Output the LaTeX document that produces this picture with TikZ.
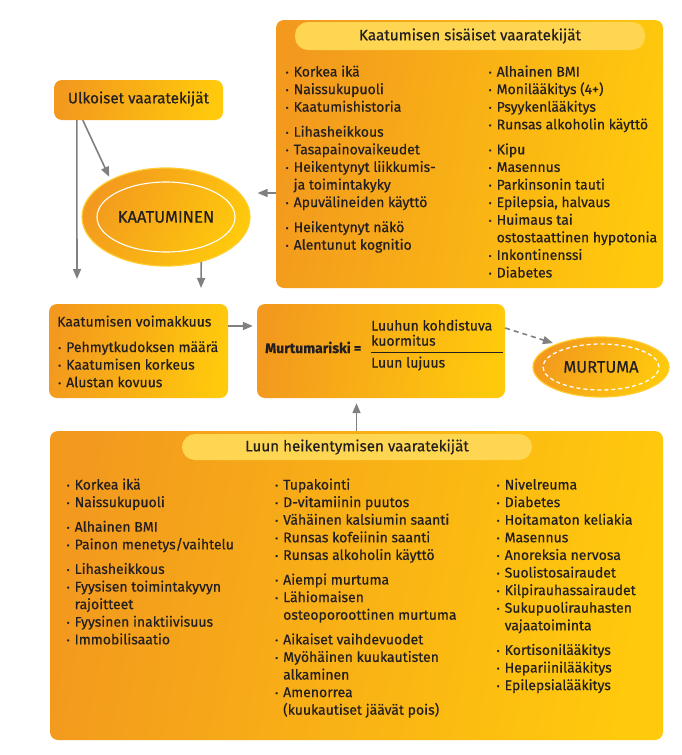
\documentclass[tikz,border=0pt]{standalone}
\usepackage{fontspec}
\setmainfont{Fira Sans}[RawFeature={embolden=0.5}]
\usetikzlibrary{arrows.meta,shapes.geometric}
\definecolor{orA}{HTML}{F39A1E}
\definecolor{yeB}{HTML}{FFC90C}
\definecolor{pillc}{HTML}{FFD651}
\definecolor{txt}{HTML}{231F20}
\definecolor{arr}{HTML}{808080}
\definecolor{rim}{HTML}{FFCB2E}
\newcommand\bu{\makebox[8pt][l]{\fontsize{9}{9}\selectfont\raisebox{0.8pt}{\textbullet}}}
\newcommand\bodyf{\fontsize{14}{17.6}\selectfont}
\begin{document}
\begin{tikzpicture}[x=1pt,y=-1pt,
  every node/.style={text=txt},
  gbox/.style={rounded corners=8pt, left color=orA, right color=yeB, shading angle=80, inner sep=0pt},
  pillbox/.style={rounded corners=13pt, fill=pillc, inner sep=0pt},
  lst/.style={anchor=base west, inner sep=0pt, font=\bodyf},
  ttl/.style={font=\fontsize{15.2}{17}\selectfont, inner sep=0pt},
  arw/.style={draw=arr, line width=1.6pt, -{Triangle[length=10pt,width=8pt]}},
]
\useasboundingbox (0,0) rectangle (681,755);

% ---------- boxes ----------
\node[gbox, minimum width=387pt, minimum height=268pt] (top) at (469.5,154) {};
\node[pillbox, minimum width=350pt, minimum height=28pt] (toppill) at (470,36) {};
\node[ttl] (toptitle) at (470,36) {Kaatumisen sisäiset vaaratekijät};

\node[gbox, minimum width=169pt, minimum height=40pt] (ulk) at (138.5,100) {};
\node[ttl] (ulkt) at (138.5,99) {Ulkoiset vaaratekijät};

\node[ellipse, left color=orA, right color=yeB, shading angle=60, draw=rim, line width=1.2pt,
      minimum width=168pt, minimum height=98pt, inner sep=0pt] (kaat) at (166,217) {};
\node[ellipse, draw=white, line width=1.1pt, minimum width=138pt, minimum height=70pt,
      inner sep=0pt, font=\fontsize{16.5}{18}\selectfont] (kaatin) at (166,217) {KAATUMINEN};

\node[gbox, minimum width=179pt, minimum height=94pt] (voim) at (138.5,351) {};
\node[gbox, minimum width=248pt, minimum height=94pt] (mr) at (381,351) {};

\node[ellipse, left color=orA, right color=yeB, shading angle=60, draw=rim, line width=1.2pt,
      minimum width=136pt, minimum height=60pt, inner sep=0pt] (mu) at (601,367) {};
\node[ellipse, draw=white, line width=1.3pt, dash pattern=on 4pt off 3pt,
      minimum width=116pt, minimum height=46pt, inner sep=0pt,
      font=\fontsize{16.5}{18}\selectfont] (muin) at (601,367) {MURTUMA};

\node[gbox, minimum width=613pt, minimum height=309pt] (bot) at (356.5,585.5) {};
\node[pillbox, minimum width=350pt, minimum height=26pt] (botpill) at (357,447) {};
\node[ttl] (bottitle) at (357,447) {Luun heikentymisen vaaratekijät};

% ---------- top box lists ----------
\node[lst] (tl) at (285.5,76.5) {\begin{tabular}[t]{@{}l@{}l@{}}
\bu&Korkea ikä\\
\bu&Naissukupuoli\\
\bu&Kaatumishistoria\\[7.4pt]
\bu&Lihasheikkous\\
\bu&Tasapainovaikeudet\\
\bu&Heikentynyt liikkumis-\\
&ja toimintakyky\\
\bu&Apuvälineiden käyttö\\[7.4pt]
\bu&Heikentynyt näkö\\
\bu&Alentunut kognitio
\end{tabular}};
\node[lst] (tr) at (488.5,76.5) {\begin{tabular}[t]{@{}l@{}l@{}}
\bu&Alhainen BMI\\
\bu&Monilääkitys (4+)\\
\bu&Psyykenlääkitys\\
\bu&Runsas alkoholin käyttö\\[7.4pt]
\bu&Kipu\\
\bu&Masennus\\
\bu&Parkinsonin tauti\\
\bu&Epilepsia, halvaus\\
\bu&Huimaus tai\\
&ostostaattinen hypotonia\\
\bu&Inkontinenssi\\
\bu&Diabetes
\end{tabular}};

% ---------- middle ----------
\node[lst] (voimt) at (57,326.5) {Kaatumisen voimakkuus};
\node[lst] (voiml) at (58,352) {\begin{tabular}[t]{@{}l@{}l@{}}
\bu&Pehmytkudoksen määrä\\
\bu&Kaatumisen korkeus\\
\bu&Alustan kovuus
\end{tabular}};
\node[lst, font=\bodyf\bfseries] (mrt) at (265,353) {Murtumariski =};
\node[lst, font=\fontsize{14}{14.2}\selectfont] (num) at (371,330.5) {\begin{tabular}[t]{@{}l@{}}
Luuhun kohdistuva\\kuormitus\end{tabular}};
\node[lst] (den) at (371,367.5) {Luun lujuus};
\coordinate (fracL) at (371,352);
\coordinate (fracR) at (503,352);
\draw[txt, line width=0.9pt] (fracL) -- (fracR);

% ---------- bottom lists ----------
\node[lst] (b1) at (66.5,489.5) {\begin{tabular}[t]{@{}l@{}l@{}}
\bu&Korkea ikä\\
\bu&Naissukupuoli\\[7pt]
\bu&Alhainen BMI\\
\bu&Painon menetys/vaihtelu\\[7pt]
\bu&Lihasheikkous\\
\bu&Fyysisen toimintakyvyn\\
&rajoitteet\\
\bu&Fyysinen inaktiivisuus\\
\bu&Immobilisaatio
\end{tabular}};
\node[lst] (b2) at (275,489.5) {\begin{tabular}[t]{@{}l@{}l@{}}
\bu&Tupakointi\\
\bu&D-vitamiinin puutos\\
\bu&Vähäinen kalsiumin saanti\\
\bu&Runsas kofeiinin saanti\\
\bu&Runsas alkoholin käyttö\\[7pt]
\bu&Aiempi murtuma\\
\bu&Lähiomaisen\\
&osteoporoottinen murtuma\\[7pt]
\bu&Aikaiset vaihdevuodet\\
\bu&Myöhäinen kuukautisten\\
&alkaminen\\
\bu&Amenorrea\\
&(kuukautiset jäävät pois)
\end{tabular}};
\node[lst] (b3) at (496.5,489.5) {\begin{tabular}[t]{@{}l@{}l@{}}
\bu&Nivelreuma\\
\bu&Diabetes\\
\bu&Hoitamaton keliakia\\
\bu&Masennus\\
\bu&Anoreksia nervosa\\
\bu&Suolistosairaudet\\
\bu&Kilpirauhassairaudet\\
\bu&Sukupuolirauhasten\\
&vajaatoiminta\\[7pt]
\bu&Kortisonilääkitys\\
\bu&Hepariinilääkitys\\
\bu&Epilepsialääkitys
\end{tabular}};

% ---------- connectors ----------
\coordinate (c1) at (77,279);
\coordinate (c2) at (201,288);
\draw[arw] ([xshift=23pt]ulk.south west) -- (c1);
\draw[arw, shorten >=3pt] ([xshift=29pt]ulk.south west) -- (kaat.146);
\draw[arw, shorten >=7pt] ([yshift=-39pt]top.west) -- ([yshift=-39pt]top.west -| kaat.east);
\draw[arw] (kaat.-52) -- (c2);
\draw[arw, shorten >=4pt] ([yshift=25pt]voim.east) -- ([yshift=25pt]voim.east -| mr.west);
\draw[arw, dash pattern=on 5pt off 4pt, shorten >=3pt] ([yshift=23pt]mr.east) -- (mu.153);
\draw[arw, shorten >=5pt] (bot.north) -- (bot.north |- mr.south);
\end{tikzpicture}
\end{document}
